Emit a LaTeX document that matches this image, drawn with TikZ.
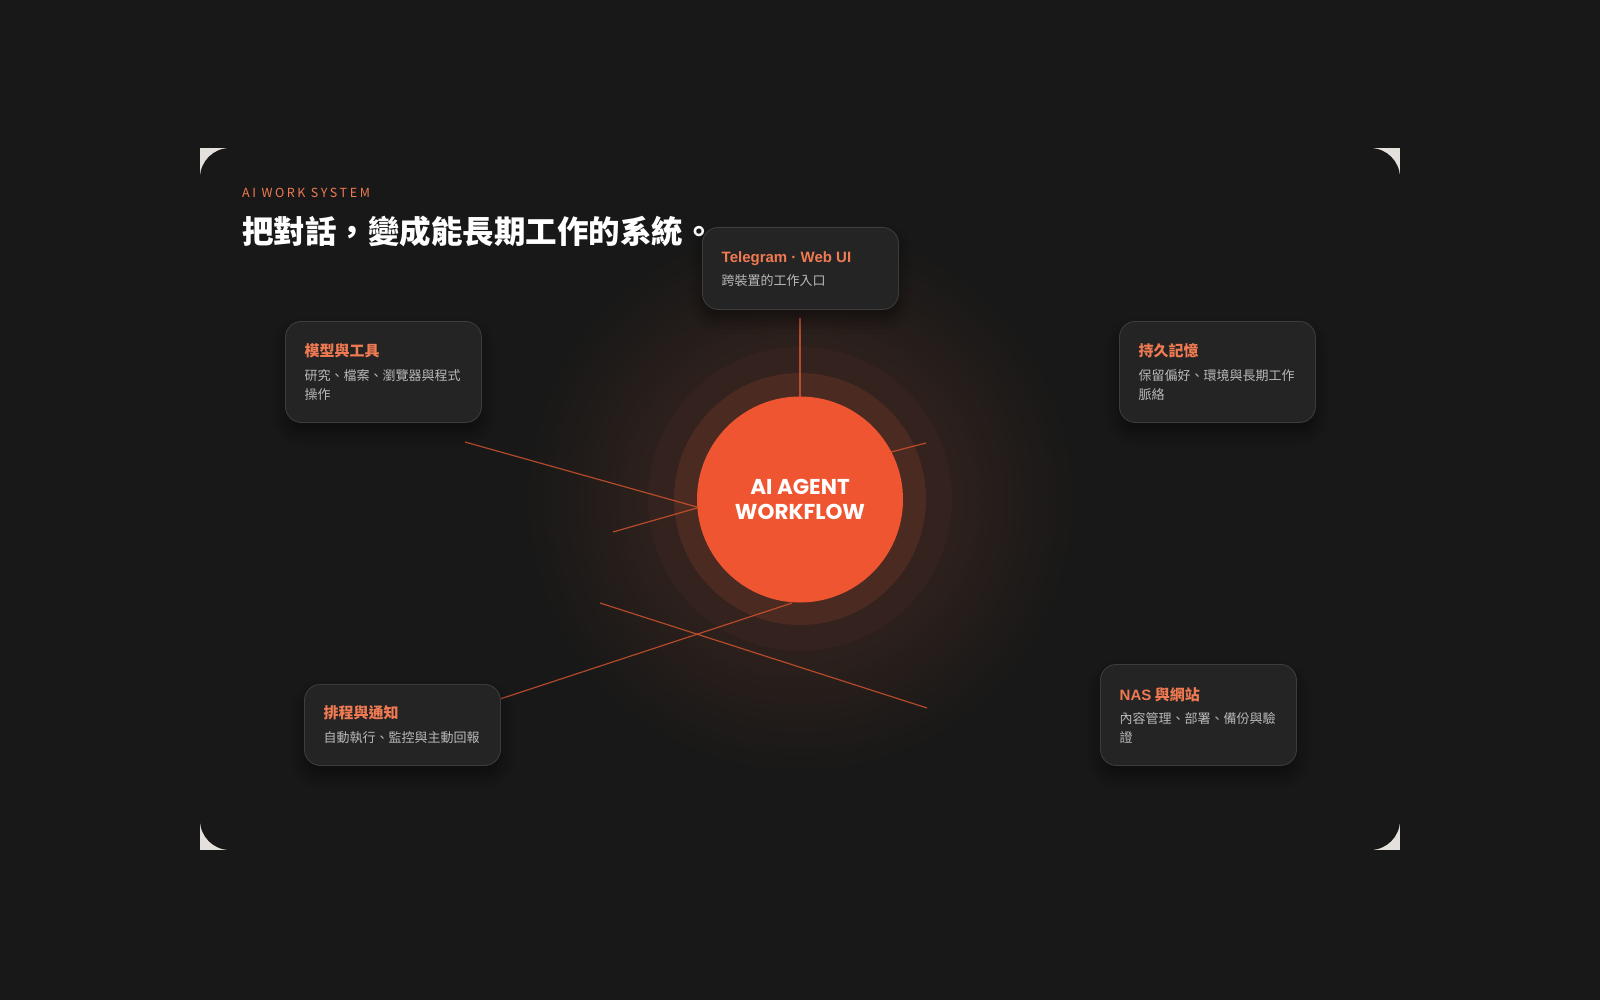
\documentclass[tikz,border=0pt]{standalone}
\usepackage{fontspec}
\setmainfont{Noto Sans CJK TC}
\newfontfamily\headfont{Noto Sans CJK TC}[LetterSpace=21]
\newfontfamily\latinfont{Liberation Sans}
\newfontfamily\hubfont{Poppins}
\usetikzlibrary{shadows.blur}
\definecolor{bgc}{HTML}{181818}
\definecolor{cornerc}{HTML}{E4E1DC}
\definecolor{cardfill}{HTML}{242424}
\definecolor{carddraw}{HTML}{3C3C3C}
\definecolor{orangetxt}{HTML}{F07A52}
\definecolor{greytxt}{HTML}{B9B9B9}
\definecolor{hubc}{HTML}{F05532}
\definecolor{ringa}{HTML}{4A2A21}
\definecolor{ringb}{HTML}{33221D}
\definecolor{glowa}{HTML}{35241F}
\definecolor{glowb}{HTML}{2C201C}
\definecolor{glowc}{HTML}{201B19}
\definecolor{linec}{HTML}{D9552F}
\pgfdeclareradialshading{glowshade}{\pgfpoint{0bp}{0bp}}{color(0bp)=(glowa); color(10bp)=(glowa); color(14bp)=(glowb); color(20bp)=(glowc); color(25bp)=(bgc); color(50bp)=(bgc)}
\tikzset{
  card/.style={draw=carddraw, line width=0.9pt, fill=cardfill, rounded corners=16pt,
    anchor=north west, minimum width=196pt, inner sep=0pt,
    blur shadow={shadow xshift=0pt, shadow yshift=-10pt, shadow blur radius=14pt, shadow opacity=45}},
  cardtitle/.style={anchor=base west, inner sep=0pt, text=orangetxt, font=\fontsize{15}{18}\selectfont\bfseries},
  cardsub/.style={anchor=base west, inner sep=0pt, text=greytxt, align=left, font=\fontsize{13}{18.5}\selectfont},
  spoke/.style={draw=linec, line width=1.2pt, opacity=0.8},
}
\begin{document}
\begin{tikzpicture}[x=1pt,y=-1pt]
\useasboundingbox (0,0) rectangle (1600,1000);
\fill[bgc] (0,0) rectangle (1600,1000);
\fill[cornerc] (200,148) rectangle (1400,850);
\fill[bgc, rounded corners=30pt] (200,148) rectangle (1400,850);

% glow and rings
\shade[shading=glowshade] (800,499) circle (280);
\fill[ringb] (800,499) circle (152);
\fill[ringa] (800,499) circle (126);

% header
\node[anchor=base west, inner sep=0pt, text=orangetxt, font=\headfont\fontsize{12.5}{14}\selectfont] (kicker) at (242,197.5) {AI WORK SYSTEM};
\node[anchor=base west, inner sep=0pt, text=white, font=\fontsize{31.5}{36}\selectfont\bfseries] (headline) at (242,244) {把對話，變成能長期工作的系統。};

% spoke coordinates
\coordinate (l1a) at (465,442); \coordinate (l1b) at (697,507);
\coordinate (l2a) at (613,532); \coordinate (l2b) at (697,508);
\coordinate (l3a) at (800,318); \coordinate (l3b) at (800,397);
\coordinate (l4a) at (891,452); \coordinate (l4b) at (926,443);
\coordinate (l5a) at (500,699); \coordinate (l5b) at (792,603);
\coordinate (l6a) at (600,603); \coordinate (l6b) at (927,708);
\draw[spoke] (l1a) -- (l1b);
\draw[spoke] (l2a) -- (l2b);
\draw[spoke] (l3a) -- (l3b);
\draw[spoke] (l4a) -- (l4b);
\draw[spoke] (l5a) -- (l5b);
\draw[spoke] (l6a) -- (l6b);

% hub
\node[circle, fill=hubc, minimum size=206pt, inner sep=0pt, text=white, align=center,
  font=\hubfont\fontsize{21.5}{25}\selectfont\bfseries] (hub) at (800,499.5) {AI AGENT\\WORKFLOW};

% cards
\node[card, minimum height=82pt] (entry) at (702,227) {};
\node[cardtitle] (entryt) at (721.5,262.5) {\latinfont Telegram · Web UI};
\node[cardsub] (entrys) at (721.5,286) {跨裝置的工作入口};

\node[card, minimum height=101pt] (tools) at (285,321) {};
\node[cardtitle] (toolst) at (304.5,356.5) {模型與工具};
\node[cardsub] (toolss) at (304.5,399) {研究、檔案、瀏覽器與程式\\操作};

\node[card, minimum height=101pt] (memory) at (1119,321) {};
\node[cardtitle] (memoryt) at (1138.5,356.5) {持久記憶};
\node[cardsub] (memorys) at (1138.5,399) {保留偏好、環境與長期工作\\脈絡};

\node[card, minimum height=81pt] (sched) at (304,684) {};
\node[cardtitle] (schedt) at (323.5,718.5) {排程與通知};
\node[cardsub] (scheds) at (323.5,742) {自動執行、監控與主動回報};

\node[card, minimum height=101pt] (nas) at (1100,664) {};
\node[cardtitle] (nast) at (1119.5,700.5) {{\latinfont NAS} 與網站};
\node[cardsub] (nass) at (1119.5,742) {內容管理、部署、備份與驗\\證};
\end{tikzpicture}
\end{document}
